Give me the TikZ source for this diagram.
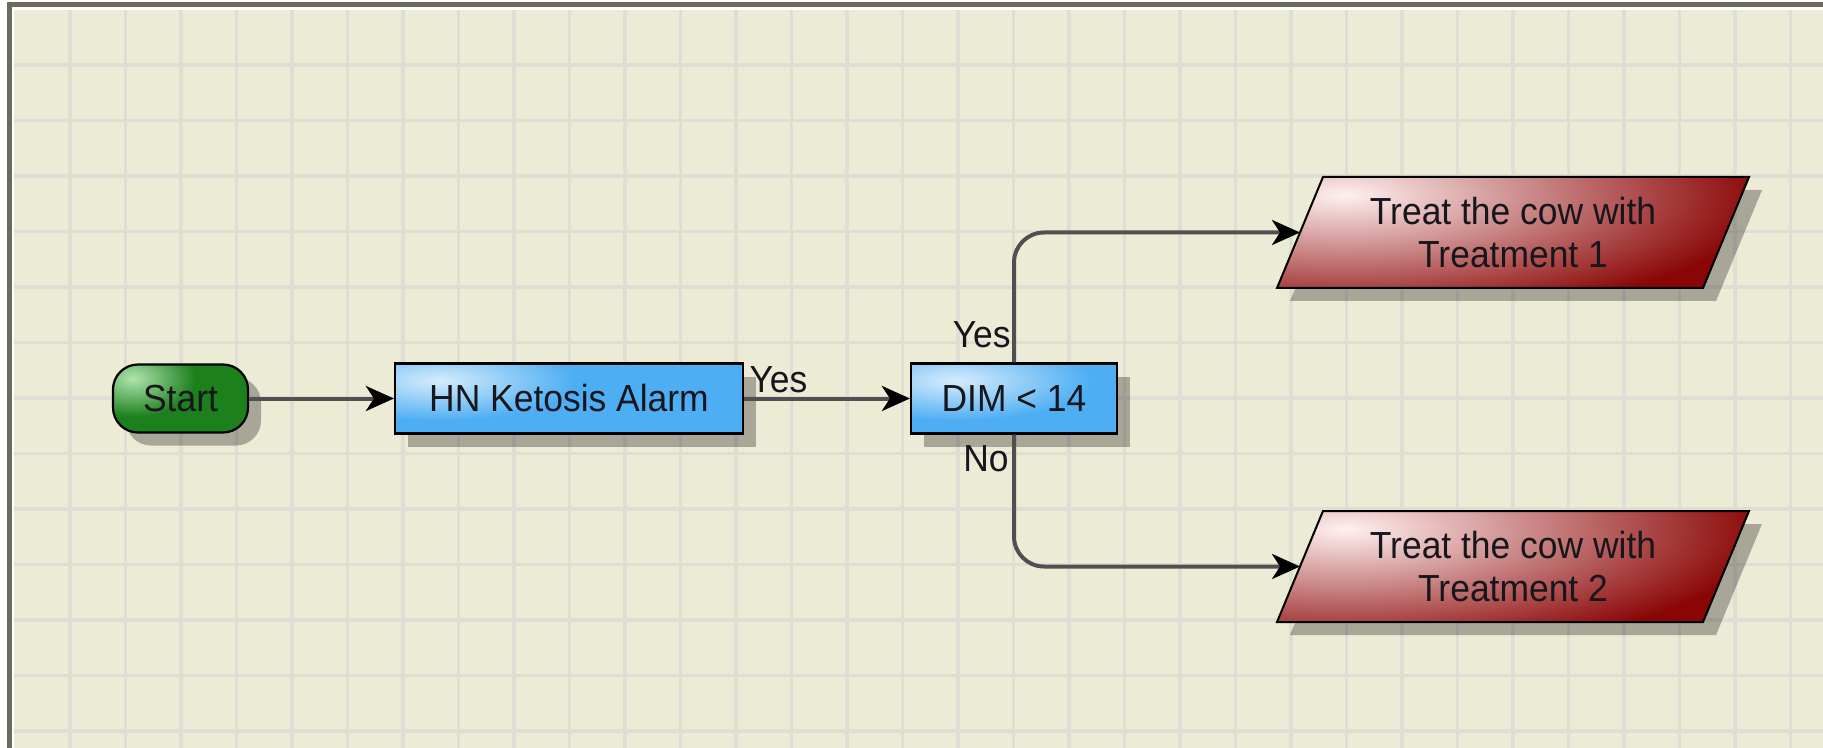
\documentclass[tikz,border=0pt]{standalone}
\usepackage{fontspec}
\setmainfont{Liberation Sans}[FakeStretch=0.94]
\usetikzlibrary{arrows.meta,shadows}
\definecolor{bgcream}{RGB}{236,235,214}
\definecolor{gridc}{RGB}{222,222,212}
\definecolor{framec}{RGB}{108,108,94}
\definecolor{blueb}{RGB}{78,174,243}
\definecolor{bluehi}{RGB}{214,236,251}
\definecolor{greenb}{RGB}{28,128,28}
\definecolor{greenhi}{RGB}{175,228,175}
\definecolor{redb}{RGB}{138,6,6}
\definecolor{redhi}{RGB}{255,240,240}
\definecolor{linec}{RGB}{80,80,80}
\definecolor{txt}{RGB}{22,22,28}
\pgfdeclareradialshading{blueshine}{\pgfpoint{0bp}{0bp}}{color(0bp)=(bluehi); color(10bp)=(blueb); color(50bp)=(blueb)}
\pgfdeclareradialshading{greenshine}{\pgfpoint{0bp}{0bp}}{color(0bp)=(greenhi); color(12bp)=(greenb); color(50bp)=(greenb)}
\pgfdeclareradialshading{redshine}{\pgfpoint{0bp}{0bp}}{color(0bp)=(redhi); color(21bp)=(redb); color(50bp)=(redb)}
\begin{document}
\begin{tikzpicture}[x=0.5pt,y=-0.5pt,
  shad/.style={general shadow={shadow xshift=6.5pt,shadow yshift=-6.5pt,fill=black,opacity=0.29}},
  lbl/.style={font=\fontsize{18.85}{21.5}\selectfont, text=txt, inner sep=0pt},
  gridline/.style={draw=gridc, line width=1.75pt},
  bluebox/.style={rectangle, draw=black, line width=1.1pt, fill=blueb, shad,
    minimum width=#1, minimum height=35pt, lbl,
    path picture={\shade[shading=blueshine]
      ([xshift=22pt,yshift=-8.5pt]path picture bounding box.north west)
      ellipse [x radius=170pt, y radius=50pt];}},
  startbox/.style={rectangle, rounded corners=12.5pt, draw=black, line width=1.1pt,
    fill=greenb, shad, minimum width=67.5pt, minimum height=34pt, lbl,
    path picture={\shade[shading=greenshine]
      ([xshift=10pt,yshift=-7pt]path picture bounding box.north west)
      ellipse [x radius=65pt, y radius=40pt];}},
  redpara/.style={draw=black, line width=1pt, fill=redb, shad,
    path picture={\shade[shading=redshine]
      ([xshift=34pt,yshift=-9pt]path picture bounding box.north west)
      ellipse [x radius=250pt, y radius=75pt];}},
  conn/.style={draw=linec, line width=2pt, rounded corners=15pt,
    -{Stealth[length=14pt,width=12.5pt,inset=4pt,color=black]}}
]
\useasboundingbox (0,0) rectangle (1823,748);
% frame and background
\fill[white] (0,0) rectangle (1823,748);
\fill[framec] (6.7,1.7) rectangle (1823,748);
\fill[white] (11.7,7.3) rectangle (1823,748);
\fill[bgcream] (14,10) rectangle (1823,748);
% grid
\foreach \k in {1,...,32} \draw[gridline] ({14.5+55.5*\k},10) -- ({14.5+55.5*\k},748);
\foreach \k in {1,...,13} \draw[gridline] (14,{9.5+55.5*\k}) -- (1823,{9.5+55.5*\k});
% nodes
\node[startbox] (start) at (180.5,398.5) {Start};
\node[bluebox=174pt] (hn) at (569,398.5) {HN Ketosis Alarm};
\node[bluebox=103pt] (dim) at (1014,398.5) {DIM < 14};
\path[redpara] (1277,288) -- (1323,177) -- (1749,177) -- (1703,288) -- cycle;
\node[lbl, align=center] (t1) at (1513,232.5) {Treat the cow with\\Treatment 1};
\coordinate (t1in) at (1300,232.5);
\path[redpara] (1277,622) -- (1323,511) -- (1749,511) -- (1703,622) -- cycle;
\node[lbl, align=center] (t2) at (1513,566.5) {Treat the cow with\\Treatment 2};
\coordinate (t2in) at (1300,566.5);
% connectors
\draw[conn] (start) -- (hn);
\draw[conn] (hn) -- (dim);
\draw[conn] (dim.north) |- (t1in);
\draw[conn] (dim.south) |- (t2in);
% labels
\node[lbl, anchor=base west] (yes1) at ([xshift=2.5pt,yshift=3.25pt]hn.east) {Yes};
\node[lbl, anchor=base east] (yes2) at ([xshift=-1.5pt,yshift=7.5pt]dim.north) {Yes};
\node[lbl, anchor=base east] (no) at ([xshift=-2.5pt,yshift=-18.5pt]dim.south) {No};
\end{tikzpicture}
\end{document}
